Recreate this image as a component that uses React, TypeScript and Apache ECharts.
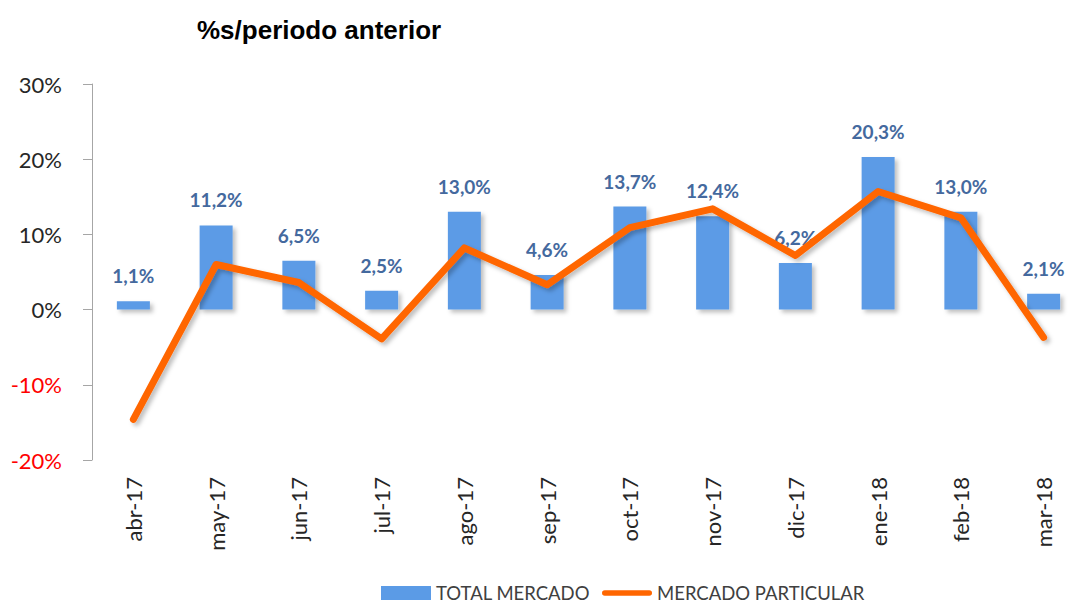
import React, { useEffect, useRef } from "react";
import * as echarts from "echarts";

const categories = ["abr-17", "may-17", "jun-17", "jul-17", "ago-17", "sep-17", "oct-17", "nov-17", "dic-17", "ene-18", "feb-18", "mar-18"];
const totalMercado = [1.1, 11.2, 6.5, 2.5, 13.0, 4.6, 13.7, 12.4, 6.2, 20.3, 13.0, 2.1];
const mercadoParticular = [-14.6, 6.0, 3.6, -3.9, 8.2, 3.3, 10.9, 13.4, 7.2, 15.7, 12.2, -3.7];
const yMin = -20;
const yMax = 30;
const yInterval = 10;

export default function App() {
  const ref = useRef<HTMLDivElement>(null);
  useEffect(() => {
    if (!ref.current) return;
    const chart = echarts.init(ref.current, null, { renderer: "svg" });
    chart.setOption({
      animation: false,
      backgroundColor: "#ffffff",
      title: {
        text: "%s/periodo anterior",
        left: 192,
        top: 12,
        textStyle: { fontFamily: "Liberation Sans", fontWeight: "bold", fontSize: 26, color: "#000000" },
      },
      grid: { left: 92, top: 84, width: 1014, height: 376, containLabel: false },
      legend: {
        left: 376,
        top: 578,
        itemWidth: 50,
        itemHeight: 14,
        itemGap: 12,
        symbolKeepAspect: true,
        textStyle: { fontFamily: "Lato", fontSize: 18.5, color: "#404040", lineHeight: 20 },
        data: [
          { name: "TOTAL MERCADO", icon: "rect", itemStyle: { color: "#5b9be6" } },
          {
            name: "MERCADO PARTICULAR",
            icon: "path://M3,0 L51,0 A3,3 0 0 1 51,6 L3,6 A3,3 0 0 1 3,0 Z",
            itemStyle: { color: "#ff6600" },
          },
        ],
      },
      xAxis: {
        type: "category",
        data: categories,
        position: "bottom",
        axisLine: { show: false },
        axisTick: { show: false },
        axisLabel: {
          rotate: 90,
          margin: 17,
          fontFamily: "Lato",
          fontSize: 22,
          color: "#262626",
          interval: 0,
        },
      },
      yAxis: {
        type: "value",
        min: yMin,
        max: yMax,
        interval: yInterval,
        splitLine: { show: false },
        axisLine: { show: true, lineStyle: { color: "#a6a6a6", width: 1 } },
        axisTick: { show: true, length: 9, lineStyle: { color: "#a6a6a6" } },
        axisLabel: {
          margin: 30,
          fontFamily: "Lato",
          fontSize: 22,
          formatter: (v: number) => `${v}%`,
          color: (v: any) => (Number(v) < 0 ? "#ff0000" : "#262626"),
        },
      },
      series: [
        {
          name: "TOTAL MERCADO",
          type: "bar",
          data: totalMercado,
          barWidth: 33,
          itemStyle: {
            color: "#5b9be6",
            shadowBlur: 4,
            shadowOffsetX: 3,
            shadowOffsetY: 3,
            shadowColor: "rgba(0,0,0,0.25)",
          },
          label: {
            show: true,
            position: "top",
            distance: 16,
            fontFamily: "Lato",
            fontWeight: "bold",
            fontSize: 19,
            color: "#44699e",
            formatter: (p: any) => `${p.value.toFixed(1).replace(".", ",")}%`,
          },
        },
        {
          name: "MERCADO PARTICULAR",
          type: "line",
          data: mercadoParticular,
          symbol: "none",
          lineStyle: {
            color: "#ff6600",
            width: 7,
            cap: "round",
            join: "round",
            shadowBlur: 4,
            shadowOffsetX: 3,
            shadowOffsetY: 3,
            shadowColor: "rgba(0,0,0,0.25)",
          },
          itemStyle: { color: "#ff6600" },
          z: 3,
        },
      ],
    });
    return () => chart.dispose();
  }, []);
  return <div ref={ref} style={{ width: 1085, height: 606, position: "absolute", left: 0, top: 0 }} />;
}
